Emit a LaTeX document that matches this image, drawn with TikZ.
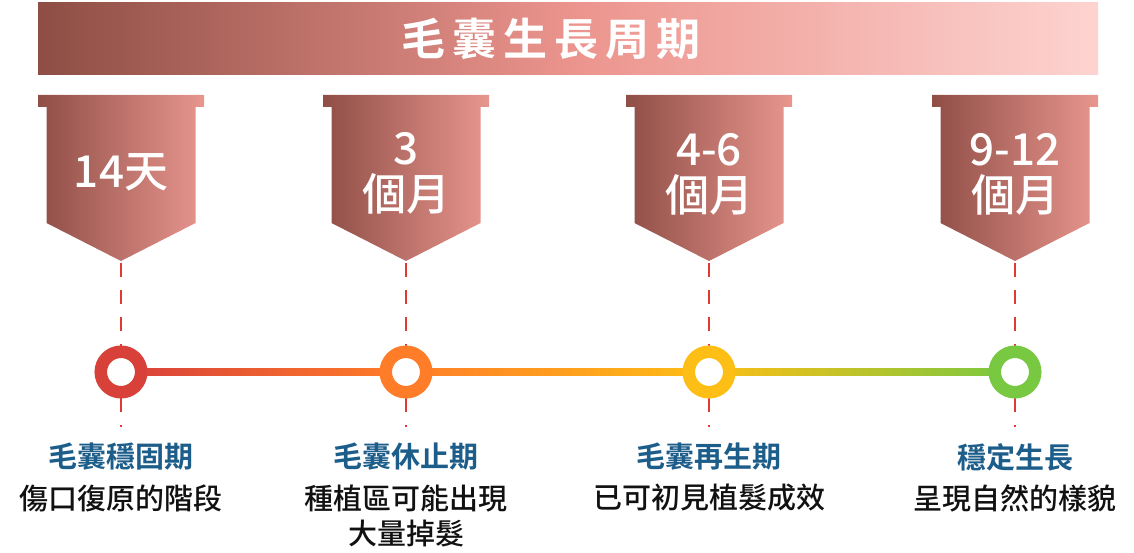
\documentclass[tikz,border=0pt]{standalone}
\usepackage{fontspec}
\usetikzlibrary{calc}
\newfontfamily\cjk{Noto Sans CJK TC Medium}
\newfontfamily\cjkb{Noto Sans CJK TC Bold}
\definecolor{bandL}{HTML}{8E4E45}
\definecolor{bandM}{HTML}{EC958E}
\definecolor{bandR}{HTML}{FDD3D0}
\definecolor{badgeL}{HTML}{8F4E46}
\definecolor{badgeR}{HTML}{E8968E}
\definecolor{cRed}{HTML}{D8403A}
\definecolor{cOrange}{HTML}{FF7D28}
\definecolor{cYellow}{HTML}{FDBE15}
\definecolor{cGreen}{HTML}{78C841}
\definecolor{dashRed}{HTML}{E03A30}
\definecolor{labBlue}{HTML}{1D5D8A}
\definecolor{txtBlack}{HTML}{111111}
\tikzset{
  ring/.style={circle, draw=#1, line width=12.5pt, fill=white, minimum size=40.5pt, inner sep=0pt},
  badgetext/.style={text=white, align=center, font=\cjk\fontsize{44}{46}\selectfont, inner sep=0pt},
  phase/.style={text=labBlue, font=\cjkb\fontsize{29}{32}\selectfont, inner sep=0pt},
  desc/.style={text=txtBlack, align=center, font=\cjk\fontsize{29}{35}\selectfont, inner sep=0pt},
  guide/.style={draw=dashRed, line width=2.5pt, dash pattern=on 14pt off 13pt},
  titletext/.style={text=white, font=\cjkb\fontsize{44}{46}\selectfont, inner sep=0pt}
}
\begin{document}
\begin{tikzpicture}[x=1pt,y=-1pt]
\useasboundingbox (0,0) rectangle (1134,553);
% banner
\shade[left color=bandL, right color=bandM] (38,3) rectangle (580.5,75);
\shade[left color=bandM, right color=bandR] (580,3) rectangle (1098,75);
\node[titletext] (title) at (551,39) {毛\hspace{7pt}囊\hspace{7pt}生\hspace{7pt}長\hspace{7pt}周\hspace{7pt}期};
% badges
\foreach \x/\n in {121/1,406/2,709/3,1015/4}{
  \shade[left color=badgeL, right color=badgeR]
    (\x-83,95) -- (\x+83,95) -- (\x+83,107) -- (\x+74.5,107) -- (\x+74.5,223)
    -- (\x,261) -- (\x-74.5,223) -- (\x-74.5,107) -- (\x-83,107) -- cycle;
  \coordinate (t\n) at (\x,263);
  \coordinate (b\n) at (\x,427);
  \coordinate (c\n) at (\x,372);
}
\node[badgetext] (bt1) at (121,172) {14天};
\node[badgetext] (bt2) at (406,173) {3\\個月};
\node[badgetext] (bt3) at (709,174) {4-6\\個月};
\node[badgetext] (bt4) at (1015,174) {9-12\\個月};
% dashed guides
\foreach \n in {1,2,3,4}{\draw[guide] (t\n) -- (b\n);}
% timeline
\shade[left color=cRed, right color=cOrange] ($(c1)+(0,-3.2)$) rectangle ($(c2)+(0,3.2)$);
\shade[left color=cOrange, right color=cYellow] ($(c2)+(0,-3.2)$) rectangle ($(c3)+(0,3.2)$);
\shade[left color=cYellow, right color=cGreen] ($(c3)+(0,-3.2)$) rectangle ($(c4)+(0,3.2)$);
\node[ring=cRed] (r1) at (c1) {};
\node[ring=cOrange] (r2) at (c2) {};
\node[ring=cYellow] (r3) at (c3) {};
\node[ring=cGreen] (r4) at (c4) {};
% labels
\node[phase] (p1) at (121,457) {毛囊穩固期};
\node[phase] (p2) at (406,457) {毛囊休止期};
\node[phase] (p3) at (709,457) {毛囊再生期};
\node[phase] (p4) at (1015,457) {穩定生長};
\node[desc] (d1) at (121,498) {傷口復原的階段};
\node[desc] (d2) at (406,516) {種植區可能出現\\大量掉髮};
\node[desc] (d3) at (709,498) {已可初見植髮成效};
\node[desc] (d4) at (1015,498) {呈現自然的樣貌};
\end{tikzpicture}
\end{document}
